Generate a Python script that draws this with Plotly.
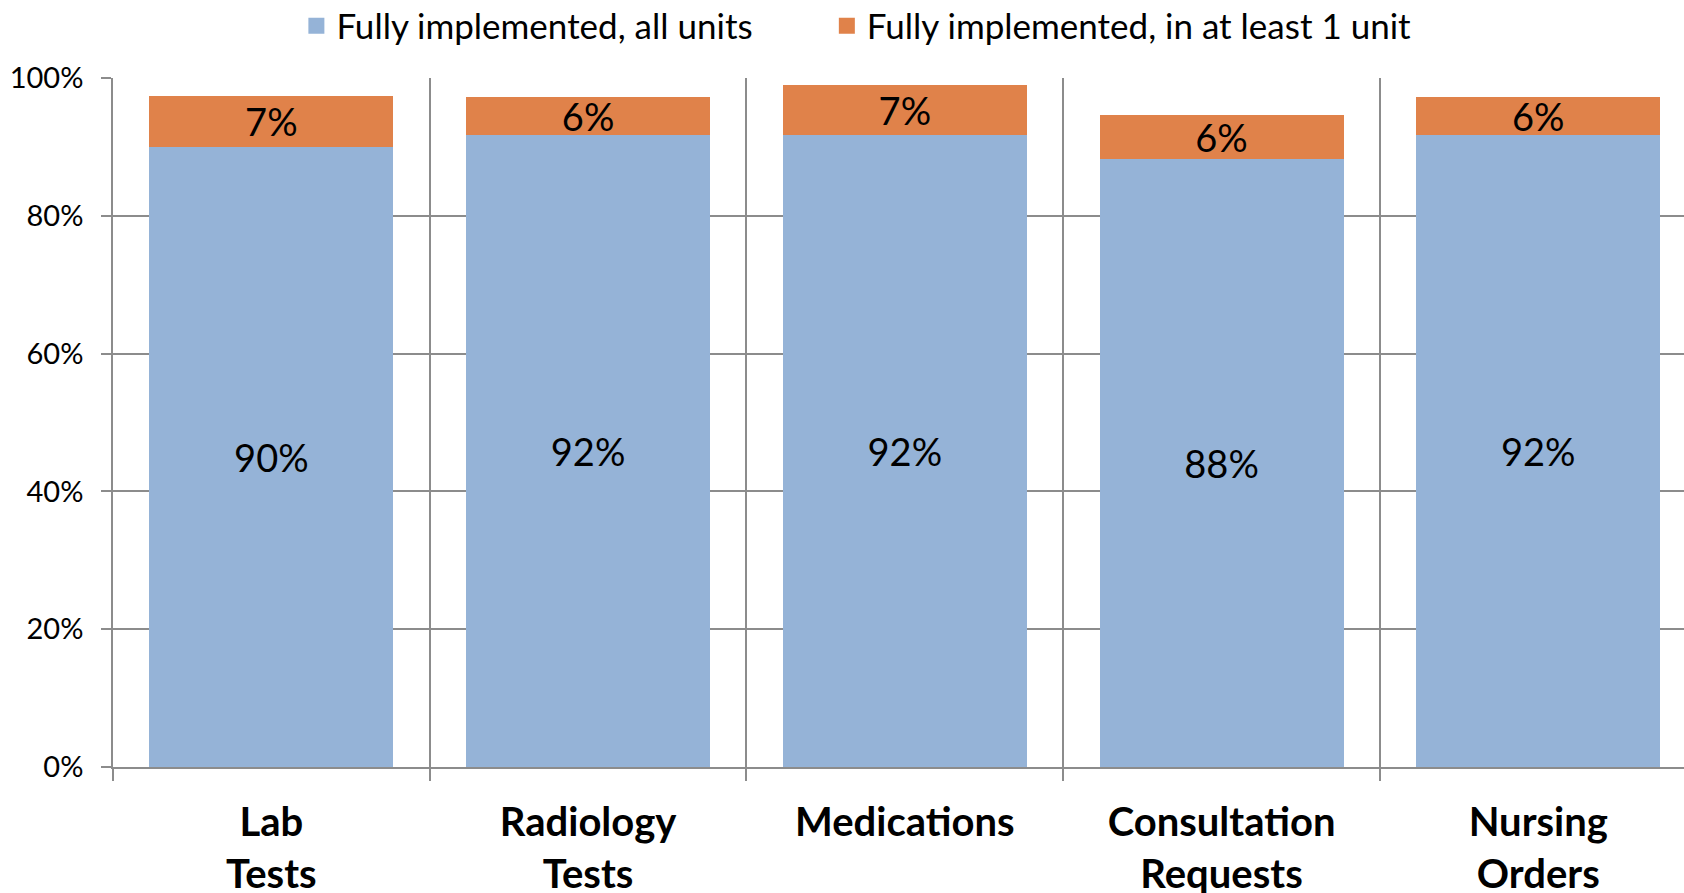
import plotly.graph_objects as go

categories = ["Lab<br>Tests", "Radiology<br>Tests", "Medications", "Consultation<br>Requests", "Nursing<br>Orders"]
all_units = [90.0, 91.7, 91.7, 88.2, 91.7]
at_least_one = [7.4, 5.5, 7.3, 6.4, 5.5]
series_names = ["Fully implemented, all units", "Fully implemented, in at least 1 unit"]
y_ticks = [0, 20, 40, 60, 80, 100]
y_tick_labels = ["0%", "20%", "40%", "60%", "80%", "100%"]

BLUE = "#95B3D7"
ORANGE = "#E0824A"
GRID = "#8C8C8C"
FONT = "Lato"

fig = go.Figure()
for name, vals, color in [(series_names[0], all_units, BLUE), (series_names[1], at_least_one, ORANGE)]:
    fig.add_trace(go.Bar(
        x=categories, y=vals, name=name, showlegend=False,
        marker=dict(color=color, line=dict(width=0)),
        texttemplate="%{y:.0f}%", textposition="inside", insidetextanchor="middle",
        constraintext="none",
        textfont=dict(family=FONT, size=38, color="black"),
        hoverinfo="skip",
    ))
# legend entries with larger square swatches, one legend each for exact placement
for name, color, lg in [(series_names[0], BLUE, "legend"), (series_names[1], ORANGE, "legend2")]:
    fig.add_trace(go.Scatter(
        x=[None], y=[None], mode="markers", name=name, legend=lg,
        marker=dict(symbol="square", size=16, color=color),
        hoverinfo="skip",
    ))

legend_common = dict(orientation="h", xref="container", yref="container",
                     xanchor="left", y=0.971, yanchor="middle",
                     font=dict(family=FONT, size=35), itemsizing="trace",
                     bgcolor="rgba(0,0,0,0)")

fig.update_layout(
    width=1684, height=893,
    barmode="stack", bargap=0.23,
    plot_bgcolor="white", paper_bgcolor="white",
    margin=dict(l=113, r=0, t=78, b=126),
    font=dict(family=FONT, color="black"),
    showlegend=True,
    legend=dict(x=0.176, **legend_common),
    legend2=dict(x=0.491, **legend_common),
)
fig.update_xaxes(
    range=[-0.5, 4.46], tickson="boundaries", automargin=False,
    showgrid=True, gridcolor=GRID, gridwidth=1.5,
    showline=True, linecolor=GRID, linewidth=1.5,
    ticks="outside", ticklen=12, tickcolor=GRID, tickwidth=1.5,
    tickfont=dict(family=FONT, size=40, weight="bold"),
    ticklabelstandoff=19,
)
fig.update_yaxes(
    range=[0, 100], tickvals=y_ticks, ticktext=y_tick_labels, automargin=False,
    showgrid=True, gridcolor=GRID, gridwidth=1.5,
    showline=True, linecolor=GRID, linewidth=1.5,
    ticks="outside", ticklen=10, tickcolor=GRID, tickwidth=1.5,
    tickfont=dict(family=FONT, size=29), zeroline=False,
    ticklabelstandoff=12,
)

fig.write_html("out.html", config={"displayModeBar": False},
               post_script="document.body.style.margin='0';document.body.style.overflow='hidden';")
